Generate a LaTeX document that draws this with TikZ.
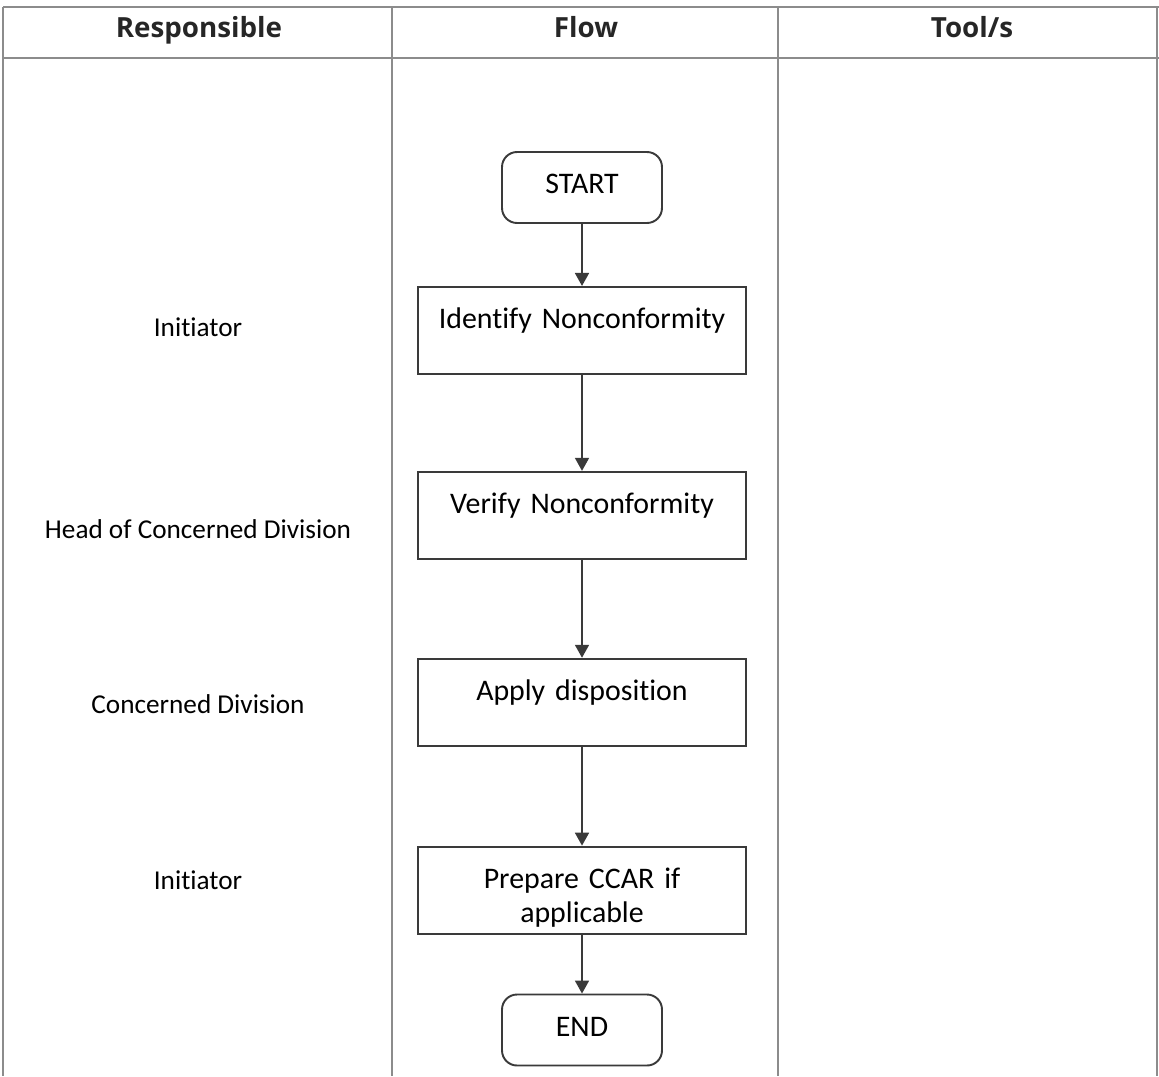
\documentclass[tikz,border=0pt]{standalone}
\usepackage{fontspec}
\setmainfont{Carlito}[Ligatures=NoCommon]
\newfontfamily\headfont{Open Sans}
\usetikzlibrary{positioning,arrows.meta}
\definecolor{rulegray}{HTML}{8C8C8C}
\definecolor{boxgray}{HTML}{3A3A3A}
\begin{document}
\begin{tikzpicture}[x=0.02cm,y=-0.02cm,
	head/.style={font=\headfont\bfseries\fontsize{15.8}{18}\selectfont,text=black!85,anchor=base},
	who/.style={font=\fontsize{15.5}{19}\selectfont},
	terminal/.style={draw=boxgray,line width=1.1pt,rounded corners=0.3cm,minimum width=3.2cm,minimum height=1.42cm,text depth=0.14cm,font=\fontsize{17}{20}\selectfont},
	process/.style={draw=boxgray,line width=1.1pt,inner sep=0pt,text width=6.56cm,align=center,text height=0.84cm,text depth=0.9cm,font=\fontsize{17}{19.5}\selectfont},
	flow/.style={draw=boxgray,line width=1pt,-{Triangle[width=0.28cm,length=0.26cm]}}]
			\useasboundingbox (0,0) rectangle (1159,1076);
			\draw[rulegray,line width=1.2pt] (3,7) -- (1159,7) (3,58) -- (1159,58);
			\foreach \x in {3,392,778,1157}
				\draw[rulegray,line width=1.2pt] (\x,7) -- (\x,1076);
			\node[head] (hresp) at (199,37) {Responsible};
			\node[head] (hflow) at (586,37) {Flow};
			\node[head] (htool) at (972,37) {Tool/s};
			\node[terminal] (start) at (582,187.5) {START};
			\node[process,below=1.24cm of start] (ident) {Identify Nonconformity};
			\node[process,below=1.92cm of ident] (verify) {Verify Nonconformity};
			\node[process,below=1.96cm of verify] (apply) {Apply disposition};
			\node[process,below=1.98cm of apply] (ccar) {Prepare CCAR if\\applicable};
			\node[terminal,below=1.18cm of ccar] (finish) {END};
			\draw[flow] (start) -- (ident);
			\draw[flow] (ident) -- (verify);
			\draw[flow] (verify) -- (apply);
			\draw[flow] (apply) -- (ccar);
			\draw[flow] (ccar) -- (finish);
			\node[who] (w1) at (198,327) {Initiator};
			\node[who] (w2) at (198,529) {Head of Concerned Division};
			\node[who] (w3) at (198,704) {Concerned Division};
			\node[who] (w4) at (198,880) {Initiator};
		\end{tikzpicture}
\end{document}
